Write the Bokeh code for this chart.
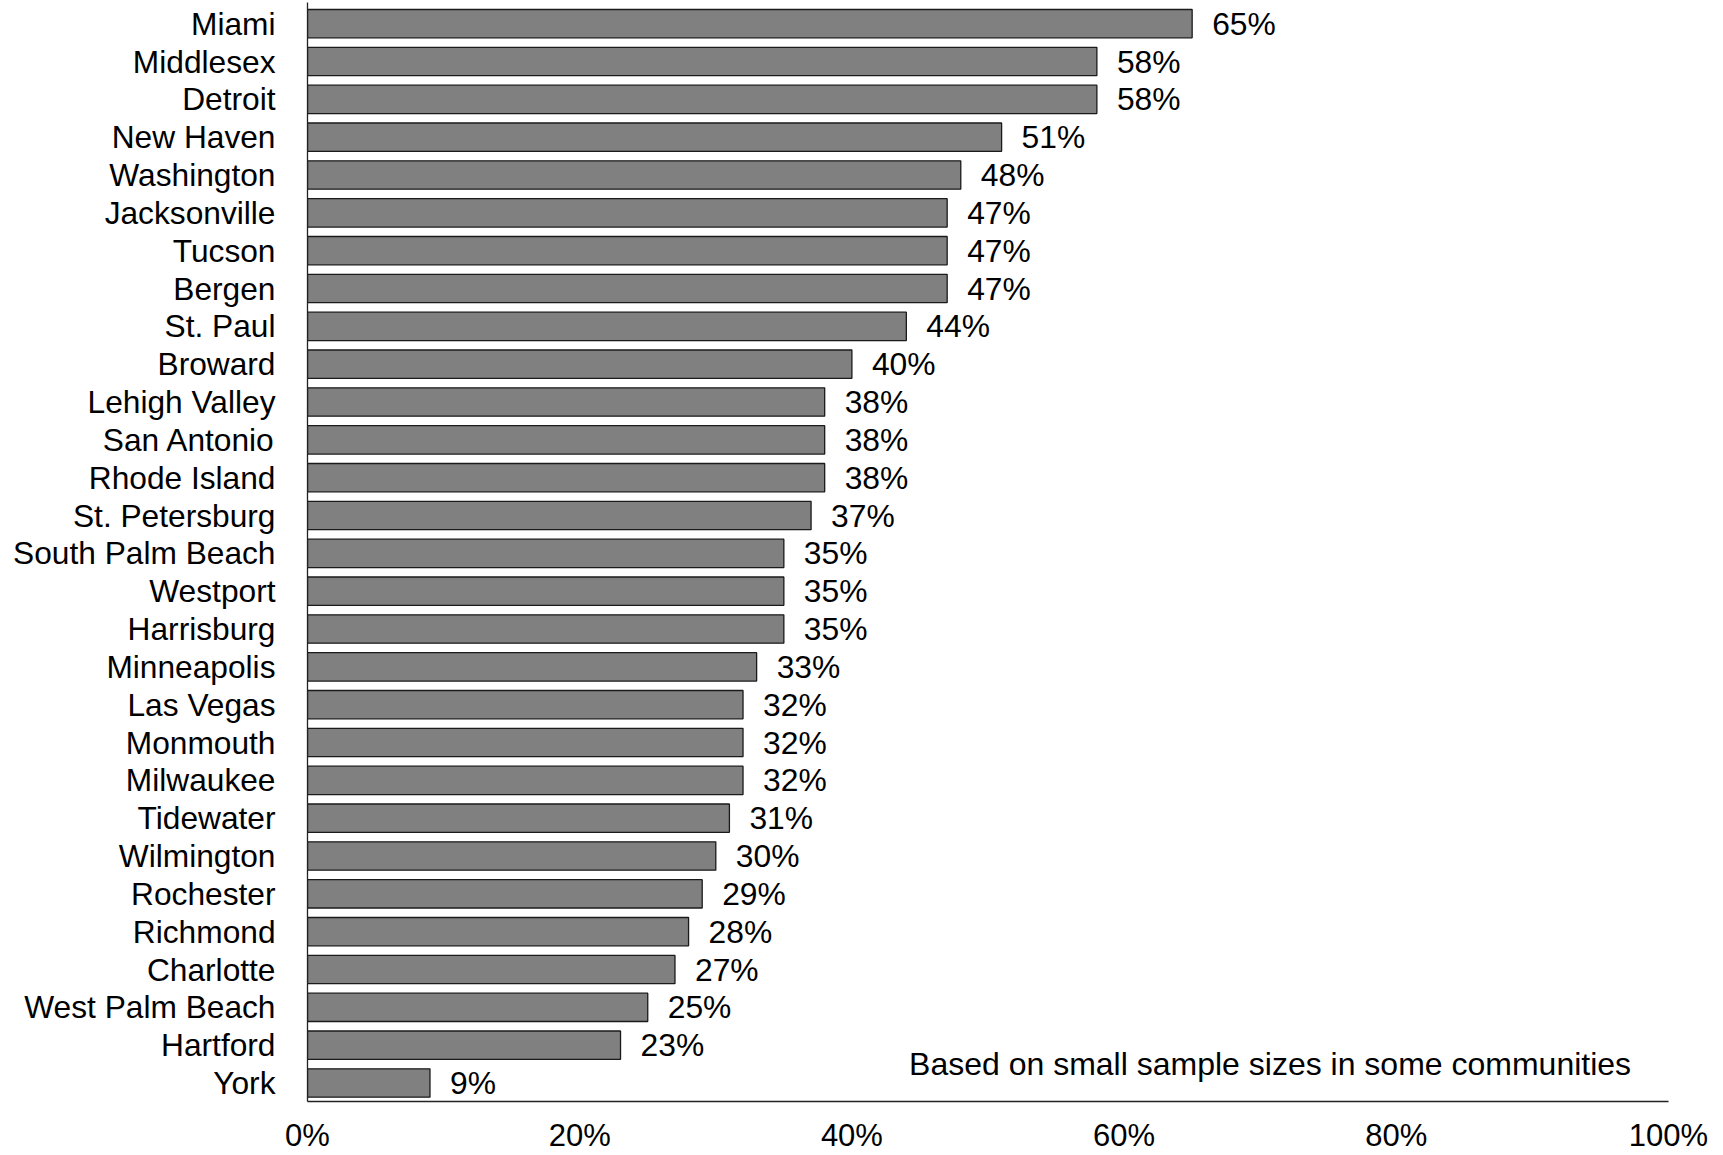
from bokeh.plotting import figure
from bokeh.models import ColumnDataSource, Range1d, FixedTicker, Label
from bokeh.core.properties import value
from bokeh.embed import file_html
from bokeh.resources import INLINE

categories = ["Miami", "Middlesex", "Detroit", "New Haven", "Washington", "Jacksonville",
              "Tucson", "Bergen", "St. Paul", "Broward", "Lehigh Valley", "San Antonio",
              "Rhode Island", "St. Petersburg", "South Palm Beach", "Westport", "Harrisburg",
              "Minneapolis", "Las Vegas", "Monmouth", "Milwaukee", "Tidewater", "Wilmington",
              "Rochester", "Richmond", "Charlotte", "West Palm Beach", "Hartford", "York"]
values = [65, 58, 58, 51, 48, 47, 47, 47, 44, 40, 38, 38, 38, 37, 35, 35, 35,
          33, 32, 32, 32, 31, 30, 29, 28, 27, 25, 23, 9]
x_ticks = [0, 20, 40, 60, 80, 100]
x_tick_labels = ["0%", "20%", "40%", "60%", "80%", "100%"]
note = "Based on small sample sizes in some communities"

FONT = "Liberation Sans"
FS = "31px"

n = len(categories)
ypos = [n - 1 - i for i in range(n)]
src = ColumnDataSource(dict(y=ypos, v=values, cat=categories,
                            lab=[f"{v}%" for v in values]))

p = figure(frame_width=1361, frame_height=1099,
           x_range=Range1d(0, 100), y_range=Range1d(-0.489, n - 1 + 0.56),
           output_backend="svg", toolbar_location=None,
           min_border_left=307, min_border_right=50, min_border_top=2,
           min_border_bottom=50)
p.outline_line_color = None
p.background_fill_color = "white"
p.border_fill_color = "white"
p.xgrid.grid_line_color = None
p.ygrid.grid_line_color = None

p.hbar(y="y", left=0, right="v", height=0.75, source=src,
       fill_color="#808080", line_color="#1a1a1a", line_width=1.3)

p.text(x="v", y="y", text="lab", source=src, x_offset=20,
       text_font=value(FONT), text_font_size="31.8px", text_color="black",
       text_baseline="middle", text_align="left")

# x axis
p.xaxis.ticker = FixedTicker(ticks=x_ticks)
p.xaxis.major_label_overrides = {t: l for t, l in zip(x_ticks, x_tick_labels)}
p.xaxis.major_tick_line_color = None
p.xaxis.minor_tick_line_color = None
p.xaxis.major_tick_out = 0
p.xaxis.major_tick_in = 0
p.xaxis.axis_line_color = "#222222"
p.xaxis.axis_line_width = 1.3
p.xaxis.major_label_text_font = FONT
p.xaxis.major_label_text_font_size = FS
p.xaxis.major_label_text_color = "black"
p.xaxis.major_label_standoff = 16

# y axis
p.yaxis.ticker = FixedTicker(ticks=ypos)
p.yaxis.major_label_overrides = {y: c for y, c in zip(ypos, categories)}
p.yaxis.major_tick_line_color = None
p.yaxis.minor_tick_line_color = None
p.yaxis.major_tick_out = 0
p.yaxis.major_tick_in = 0
p.yaxis.axis_line_color = "#222222"
p.yaxis.axis_line_width = 1.3
p.yaxis.major_label_text_font = FONT
p.yaxis.major_label_text_font_size = "31.7px"
p.yaxis.major_label_text_color = "black"
p.yaxis.major_label_standoff = 32

p.add_layout(Label(x=44.2, y=0.5, text=note, text_font=FONT, text_font_size="32px",
                   text_color="black", text_baseline="middle", text_align="left"))

open("out.html", "w").write(file_html(p, INLINE))
